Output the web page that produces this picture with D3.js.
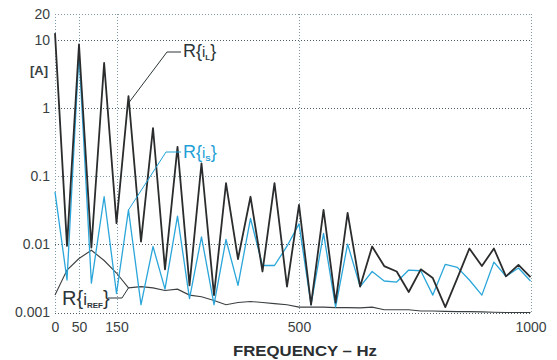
<!DOCTYPE html>
<html>
<head>
<meta charset="utf-8">
<script src="https://cdn.jsdelivr.net/npm/d3@7"></script>
<style>
  body { margin: 0; background: #fff; }
  svg { display: block; font-family: "Liberation Sans", Arial, sans-serif; }
  .grid line { stroke-width: 1; stroke-dasharray: 1 2; }
  .axis text { fill: #3a3f42; font-size: 14px; }
  .axis path, .axis line { display: none; }
</style>
</head>
<body>
<div id="chart"></div>
<script>
// --- Data ---
const freq = [0, 25, 50, 83, 117, 150, 173, 197, 220, 243, 267, 290, 313, 337, 360, 383, 407, 430, 453, 477,
  500, 526, 553, 579, 605, 632, 658, 684, 711, 737, 763, 789, 816, 842, 868, 895, 921, 947, 974, 1000];

const iL = [12, 0.0095, 8.6, 0.009, 4.6, 0.0205, 1.5, 0.011, 0.51, 0.0043, 0.27, 0.0025, 0.155, 0.0018, 0.079, 0.0061,
  0.05, 0.004, 0.079, 0.0024, 0.038, 0.0013, 0.032, 0.0014, 0.029, 0.0024, 0.0093, 0.0048, 0.004, 0.002,
  0.0043, 0.0032, 0.0012, 0.0032, 0.0087, 0.0048, 0.0087, 0.0034, 0.005, 0.0033];

const iS = [0.059, 0.003, 6.4, 0.0027, 0.05, 0.0019, 0.032, 0.0013, 0.0093, 0.0022, 0.026, 0.0016, 0.0129, 0.0013, 0.0118, 0.0025,
  0.024, 0.0049, 0.0049, 0.0094, 0.02, 0.0013, 0.0145, 0.0012, 0.0101, 0.0024, 0.004, 0.0029, 0.0028, 0.0042,
  0.0041, 0.0018, 0.0051, 0.0046, 0.003, 0.0018, 0.0055, 0.0034, 0.0045, 0.0029];

const iRef = [0.0018, 0.0042, 0.0062, 0.0082, 0.0058, 0.0038, 0.0023, 0.0024, 0.0023, 0.0021, 0.0022, 0.0018, 0.0017, 0.0015, 0.0013, 0.0014,
  0.00145, 0.0014, 0.00135, 0.0013, 0.0012, 0.0012, 0.0012, 0.00118, 0.00118, 0.00117, 0.0012, 0.0011, 0.0011, 0.0011,
  0.00105, 0.00105, 0.00104, 0.00103, 0.00103, 0.00102, 0.00101, 0.001, 0.001, 0.001];

const xTicks = [0, 50, 150, 500, 1000];
const yTicks = [0.001, 0.01, 0.1, 1, 10, 20];
const yTickLabels = ['0.001', '0.01', '0.1', '1', '10', '20'];

// --- Plot sizing ---
const width = 557, height = 360;

const svg = d3.select('#chart').append('svg')
  .attr('width', width)
  .attr('height', height);

// --- Scales ---
// the original axis is not evenly spaced, so the x scale is piecewise
const x = d3.scaleLinear().domain(xTicks).range([55, 79, 116.5, 299, 530.5]);
const y = d3.scaleLog().domain([0.001, 10, 20]).range([312.5, 40, 14]);

// GRID
const grid = svg.append('g').attr('class', 'grid');

grid.selectAll('.hgrid')
  .data(yTicks)
  .enter().append('line')
  .attr('class', 'hgrid')
  .attr('x1', x(0))
  .attr('x2', x(1000))
  .attr('y1', d => Math.round(y(d)) + 0.5)
  .attr('y2', d => Math.round(y(d)) + 0.5)
  .style('stroke', d => (d == 20 || d == 0.1) ? '#7f9ca6' : '#4d5f66');

grid.selectAll('.vgrid')
  .data(xTicks)
  .enter().append('line')
  .attr('class', 'vgrid')
  .attr('x1', d => Math.round(x(d)) + 0.5)
  .attr('x2', d => Math.round(x(d)) + 0.5)
  .attr('y1', y(20))
  .attr('y2', y(0.001))
  .style('stroke', '#7f9ca6');

// AXIS
svg.append('g')
  .attr('class', 'axis axis--y')
  .attr('transform', 'translate(' + (x(0) - 5) + ',0)')
  .call(d3.axisLeft(y).tickValues(yTicks).tickSize(0).tickPadding(0)
    .tickFormat((d, i) => yTickLabels[i]));

svg.append('g')
  .attr('class', 'axis axis--x')
  .attr('transform', 'translate(0,' + (y(0.001) + 10) + ')')
  .call(d3.axisBottom(x).tickValues(xTicks).tickSize(0).tickPadding(0)
    .tickFormat(d3.format('d')));

svg.append('text')
  .attr('x', x(0) - 7)
  .attr('y', 75)
  .attr('text-anchor', 'end')
  .style('font-size', '13px')
  .style('font-weight', 'bold')
  .style('fill', '#3a3f42')
  .text('[A]');

svg.append('text')
  .attr('x', 305)
  .attr('y', 356)
  .attr('text-anchor', 'middle')
  .attr('textLength', 144)
  .attr('lengthAdjust', 'spacingAndGlyphs')
  .style('font-size', '15px')
  .style('font-weight', 'bold')
  .style('fill', '#2b2f31')
  .text('FREQUENCY \u2013 Hz');

// LINES
const line = d3.line()
  .x((d, i) => x(freq[i]))
  .y(d => y(d));

svg.append('path')
  .datum(iRef)
  .attr('d', line)
  .style('fill', 'none')
  .style('stroke', '#3b3f41')
  .style('stroke-width', 1.1);

svg.append('path')
  .datum(iS)
  .attr('d', line)
  .style('fill', 'none')
  .style('stroke', '#2aa6da')
  .style('stroke-width', 1.3)
  .style('stroke-linejoin', 'round');

svg.append('path')
  .datum(iL)
  .attr('d', line)
  .style('fill', 'none')
  .style('stroke', '#2a2c2d')
  .style('stroke-width', 1.8)
  .style('stroke-linejoin', 'round');

// LABELS with leader lines, anchored on the 7th point of each series
const labels = [
  { name: 'L', vals: iL, color: '#2c3538', lx: 183, ly: 57, bend: [167, 52], size: 18, dy: 7 },
  { name: 'S', vals: iS, color: '#1fa0d6', lx: 183, ly: 158, bend: [166, 152], size: 18, dy: 0 },
  { name: 'REF', vals: iRef, color: '#2c3538', lx: 62, ly: 305, bend: [122, 298], size: 20, dy: 0 }
];

labels.forEach(l => {
  const px = x(freq[6]), py = y(l.vals[6]) + l.dy;
  const startX = l.name == 'REF' ? 108 : l.lx - 2;

  svg.append('polyline')
    .attr('points', [[startX, l.bend[1]], l.bend, [px, py]].map(p => p.join(',')).join(' '))
    .style('fill', 'none')
    .style('stroke', l.color)
    .style('stroke-width', 1);

  const t = svg.append('text')
    .attr('x', l.lx)
    .attr('y', l.ly)
    .style('fill', l.color)
    .style('font-size', l.size + 'px');

  t.append('tspan').text('R{');
  t.append('tspan').style('font-size', (l.size - 3) + 'px').text('i');
  t.append('tspan')
    .attr('dy', 3)
    .style('font-size', '8px')
    .style('font-weight', 'bold')
    .text(l.name);
  t.append('tspan').attr('dy', -3).text('}');
});
</script>
</body>
</html>
